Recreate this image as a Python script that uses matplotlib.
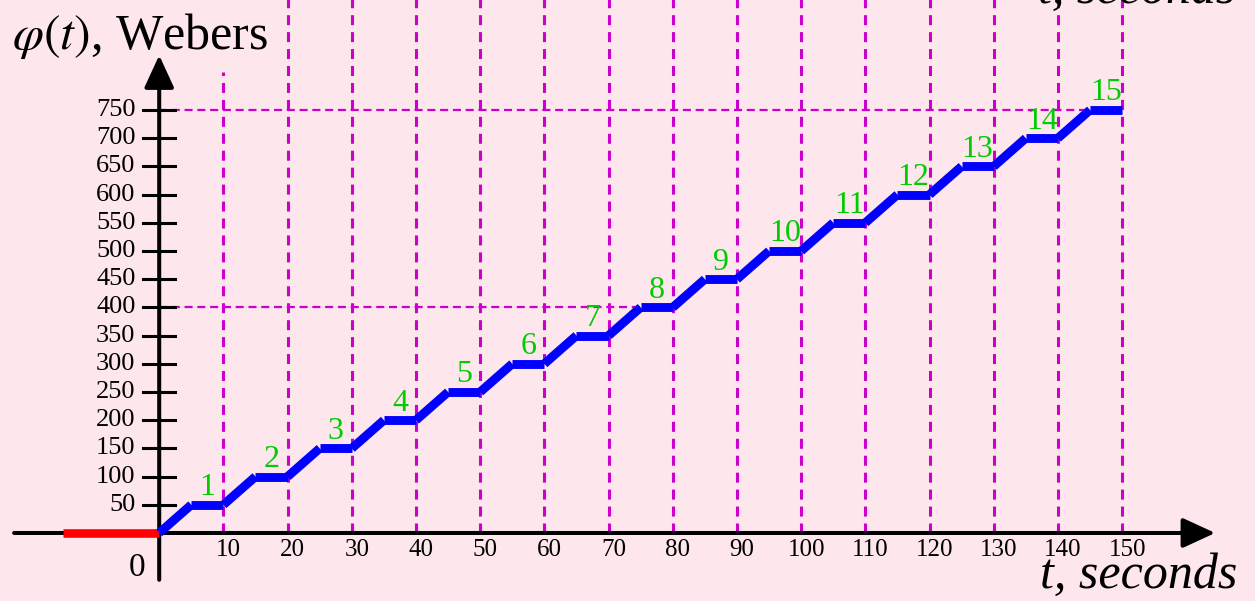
import matplotlib
matplotlib.use("Agg")
import matplotlib.pyplot as plt

# ── Données ────────────────────────────────────────────────────────────────
# flux en escalier (t en secondes, phi en Webers)
t_step = [0, 5, 10, 15, 20, 25, 30, 35, 40, 45, 50, 55, 60, 65, 70, 75,
          80, 85, 90, 95, 100, 105, 110, 115, 120, 125, 130, 135, 140, 145, 150]
phi_step = [0, 50, 50, 100, 100, 150, 150, 200, 200, 250, 250, 300, 300, 350, 350, 400,
            400, 450, 450, 500, 500, 550, 550, 600, 600, 650, 650, 700, 700, 750, 750]
t_before = [-15, 0]
phi_before = [0, 0]

step_labels = ["1", "2", "3", "4", "5", "6", "7", "8", "9", "10",
               "11", "12", "13", "14", "15"]
step_mid_t = [7.5, 17.5, 27.5, 37.5, 47.5, 57.5, 67.5, 77.5, 87.5, 97.5,
              107.5, 117.5, 127.5, 137.5, 147.5]
step_phi = [50, 100, 150, 200, 250, 300, 350, 400, 450, 500, 550, 600, 650, 700, 750]

x_ticks = [10, 20, 30, 40, 50, 60, 70, 80, 90, 100, 110, 120, 130, 140, 150]
y_ticks = [50, 100, 150, 200, 250, 300, 350, 400, 450, 500, 550, 600, 650, 700, 750]

# repères horizontaux : (niveau, fin en t)
h_guides = [(750, 145), (400, 75)]

BG = "#fde6ec"
MAGENTA = "#cc00cc"
SERIF = "Liberation Serif"

plt.rcParams["mathtext.fontset"] = "stix"
plt.rcParams["lines.scale_dashes"] = False

fig = plt.figure(figsize=(12.55, 6.01), dpi=100, facecolor=BG)
ax = fig.add_axes([0, 0, 1, 1])
ax.set_facecolor(BG)
ax.set_xlim(-24.8, 170.7)
ax.set_ylim(-120.6, 945.0)
ax.axis("off")

# ── Lignes de repère pointillées ─────────────────────────────────────────────
for xt in x_ticks:
    top = 817 if xt == 10 else 960
    ax.plot([xt, xt], [0, top], color=MAGENTA, lw=2.2, dashes=(7.2, 5.0), zorder=1)
for level, t_end in h_guides:
    ax.plot([0, t_end], [level, level], color=MAGENTA, lw=1.6, dashes=(5.8, 3.4), zorder=1)

# ── Axes avec flèches ──────────────────────────────────────────────────────
arrow = dict(arrowstyle="-|>,head_length=0.5,head_width=0.23", color="black",
             lw=2.9, mutation_scale=40, shrinkA=0, shrinkB=0)
ax.annotate("", xy=(164.5, 0), xytext=(-22.6, 0), arrowprops=arrow, zorder=2)
ax.annotate("", xy=(0, 847), xytext=(0, -83), arrowprops=arrow, zorder=2)

for yt in y_ticks:
    ax.plot([-2.5, 2.5], [yt, yt], color="black", lw=2.2, zorder=2)
    ax.text(-3.7, yt, str(yt), ha="right", va="center", fontsize=19,
            family=SERIF, color="black")
for xt in x_ticks:
    ax.text(xt + 0.8, -10, str(xt), ha="center", va="top", fontsize=18,
            family=SERIF, color="black")
ax.text(-3.4, -62, "0", ha="center", va="center", fontsize=24, family=SERIF)

# ── Courbe ──────────────────────────────────────────────────────────────────
ax.plot(t_before, phi_before, color="red", lw=6.2, solid_capstyle="butt", zorder=3)
for i in range(len(t_step) - 1):
    ax.plot(t_step[i:i + 2], phi_step[i:i + 2], color="blue", lw=6.4,
            solid_capstyle="butt", zorder=4)

for lab, tm, ph in zip(step_labels, step_mid_t, step_phi):
    ax.text(tm, ph + 17, lab, ha="center", va="baseline", fontsize=23,
            family=SERIF, color="#00cc00", zorder=5)

# ── Titres des axes ──────────────────────────────────────────────────────────
ax.text(-22.9, 858, r"$\varphi(t)$, Webers", ha="left", va="baseline",
        fontsize=36, family=SERIF)
ax.text(167.9, -97.5, "t, seconds", ha="right", va="baseline", fontsize=36,
        family=SERIF, style="italic")
# copie rognée en haut à droite
ax.text(167.6, 940, "t, seconds", ha="right", va="baseline", fontsize=36,
        family=SERIF, style="italic", clip_on=False)

fig.savefig("out.png", dpi=100, facecolor=BG)
